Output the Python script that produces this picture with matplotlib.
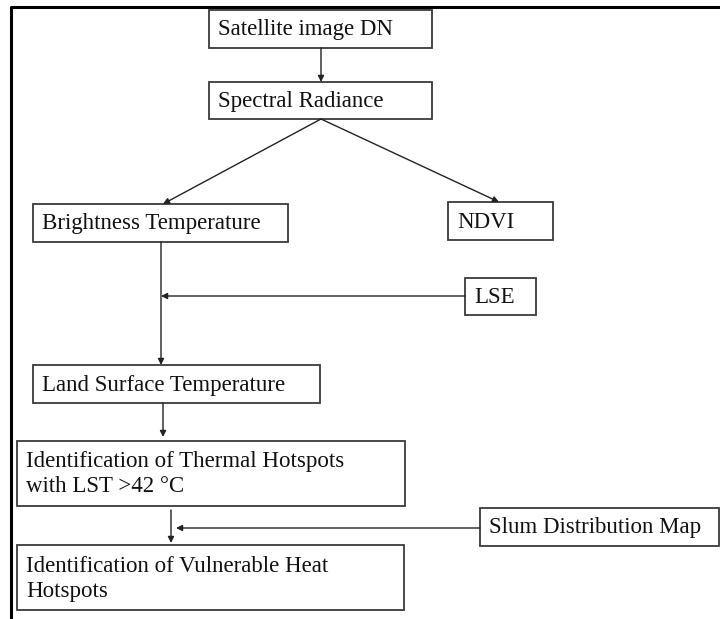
import matplotlib
matplotlib.use("Agg")
import matplotlib.pyplot as plt
from matplotlib.patches import Rectangle

# flowchart steps (label text)
step_names = ["dn", "rad", "bt", "ndvi", "lse", "lst", "thermal", "slum", "vuln"]
step_labels = [
    "Satellite image DN",
    "Spectral Radiance",
    "Brightness Temperature",
    "NDVI",
    "LSE",
    "Land Surface Temperature",
    "Identification of Thermal Hotspots\nwith LST >42 \u00b0C",
    "Slum Distribution Map",
    "Identification of Vulnerable Heat\nHotspots",
]

# box layout in pixel units: left, top, right, bottom
layout = {
    "dn": (209, 10, 432, 48),
    "rad": (209, 82, 432, 119),
    "bt": (33, 204, 288, 242),
    "ndvi": (448, 202, 553, 240),
    "lse": (465, 278, 536, 315),
    "lst": (33, 365, 320, 403),
    "thermal": (17, 441, 405, 506),
    "slum": (480, 508, 719, 546),
    "vuln": (17, 545, 404, 610),
}

W, H = 720, 619
fig = plt.figure(figsize=(W / 100, H / 100), dpi=100)
ax = fig.add_axes([0, 0, 1, 1])
ax.set_xlim(0, W)
ax.set_ylim(H, 0)
ax.axis("off")

font = dict(family=["Liberation Serif", "DejaVu Serif"], fontsize=16.5, color="#111111")

# outer frame (left and top only, rest is cropped)
ax.plot([10.5, 10.5, W], [H, 6.5, 6.5], color="black", lw=2.2, solid_capstyle="butt")

for name, label in zip(step_names, step_labels):
    l, t, r, b = layout[name]
    ax.add_patch(Rectangle((l, t), r - l, b - t, fill=False, ec="#3a3a3a", lw=1.3))
    ax.text(l + 9, (t + b) / 2 + 1, label, ha="left", va="center",
            linespacing=1.25, **font)


def arrow(x0, y0, x1, y1):
    ax.annotate("", xy=(x1, y1), xytext=(x0, y0),
                arrowprops=dict(arrowstyle="-|>", mutation_scale=9, lw=1.0,
                                color="#222222", shrinkA=0, shrinkB=0))


arrow(321, 48, 321, 82)
arrow(321, 119, 163, 204)
arrow(321, 119, 499, 202)
arrow(161, 242, 161, 365)
arrow(465, 296, 161, 296)
arrow(163, 403, 163, 437)
arrow(171, 510, 171, 543)
arrow(480, 528, 176, 528)

fig.savefig("out.png", dpi=100)
